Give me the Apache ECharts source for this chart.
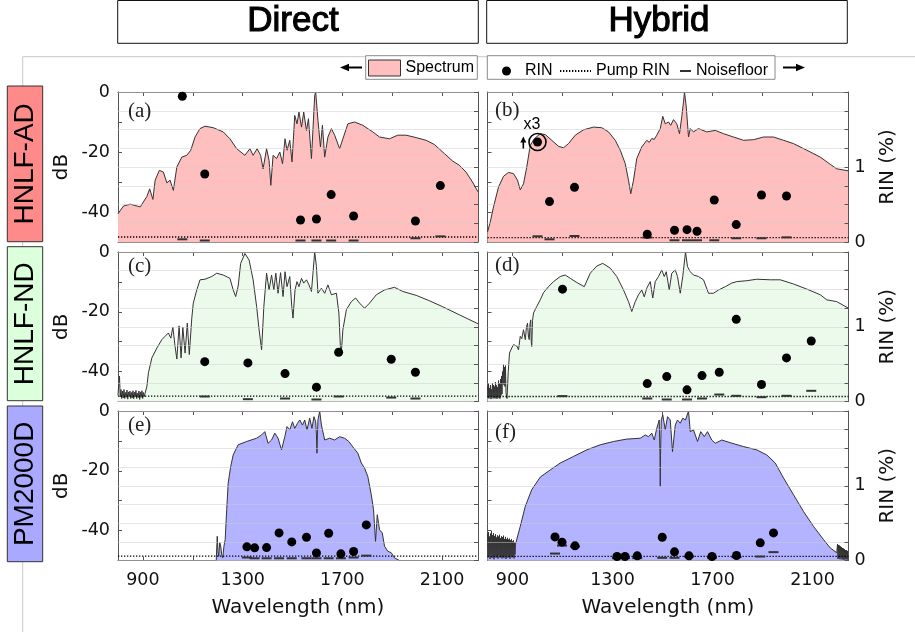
<!DOCTYPE html>
<html>
<head>
<meta charset="utf-8">
<script src="https://cdn.jsdelivr.net/npm/echarts@6/dist/echarts.min.js"></script>
<style>
html,body{margin:0;padding:0;background:#ffffff;}
#chart{width:915px;height:632px;}
</style>
</head>
<body>
<div id="chart"></div>
<script>
// ---------------- data ----------------
const columnTitles = ['Direct', 'Hybrid'];
const rowLabels = ['HNLF-AD', 'HNLF-ND', 'PM2000D'];
const panelLetters = ['(a)', '(b)', '(c)', '(d)', '(e)', '(f)'];
const xTickValues = [900, 1100, 1300, 1500, 1700, 1900, 2100];
const xLabelValues = [900, 1300, 1700, 2100];
const dbLabelValues = [-40, -20, 0];
const rinLabelValues = [0, 1];
const xRange = [800, 2244];

// spectra: [wavelength nm, dB]
const specA = [[800,-40.6],[822,-38],[849,-37.4],[889,-38.3],[916,-34.8],[927,-32.3],[940,-35.8],[949,-29.4],[966,-26.1],[982,-26.7],[996,-30.3],[1009,-29.4],[1022,-32.8],[1036,-25],[1056,-21.7],[1076,-21.1],[1092,-19.4],[1109,-15],[1129,-12.2],[1149,-11.4],[1182,-11.9],[1222,-13.3],[1249,-15.6],[1276,-18.9],[1309,-21.1],[1329,-18.9],[1342,-21.1],[1358,-18.9],[1372,-21.1],[1382,-25.6],[1396,-18.9],[1406,-22.8],[1413,-31.1],[1422,-21.1],[1436,-22.2],[1449,-20],[1460,-23.9],[1470,-15.6],[1478,-19.4],[1489,-16.1],[1498,-23.3],[1509,-7.8],[1518,-10.6],[1526,-6.7],[1536,-11.7],[1545,-6.7],[1556,-12.8],[1564,-8.9],[1576,-22.2],[1589,-1.1],[1593,0],[1602,-9.4],[1612,-18.3],[1620,-11.1],[1629,-21.7],[1642,-15],[1656,-12.2],[1669,-14.4],[1689,-18.9],[1702,-15.6],[1722,-10.6],[1749,-10],[1782,-11.1],[1822,-13.3],[1849,-15],[1889,-15.6],[1922,-14.4],[1956,-14.4],[1996,-15.2],[2036,-16.1],[2069,-17.5],[2089,-19],[2109,-20.5],[2142,-23],[2169,-24.4],[2196,-26.7],[2222,-30],[2244,-33.3]];
const specB = [[800,-46.7],[811,-43.3],[824,-38.3],[844,-31.7],[864,-28.1],[884,-26.8],[904,-27.2],[920,-29.4],[931,-32.6],[944,-30.6],[957,-25],[971,-17.8],[987,-15.6],[1011,-13.9],[1031,-14.2],[1057,-16.1],[1084,-18.1],[1104,-18.6],[1124,-17.2],[1151,-14.4],[1184,-12.6],[1224,-11.7],[1257,-11.9],[1284,-13.3],[1311,-16.1],[1331,-19.4],[1351,-23.9],[1364,-29.4],[1373,-33.9],[1384,-29.4],[1397,-22.2],[1417,-18.3],[1437,-16.1],[1447,-16.8],[1457,-15.5],[1467,-15.8],[1477,-14.4],[1491,-12.2],[1501,-8.1],[1511,-10.6],[1524,-10],[1533,-11.1],[1544,-9.2],[1557,-10.6],[1568,-13.9],[1577,-8.3],[1584,-3.3],[1588,0],[1595,-5],[1604,-15],[1611,-12.2],[1624,-13.3],[1644,-12.2],[1677,-13.3],[1711,-12.8],[1744,-13.9],[1784,-15],[1824,-16.1],[1864,-15.9],[1904,-15],[1944,-15],[1984,-16.1],[2024,-17.2],[2077,-19.4],[2131,-21.7],[2171,-24.1],[2197,-25.6],[2244,-26.3]];
const specC = [[800,-48],[803,-44],[806,-41.5],[809,-48.5],[812,-46],[815,-49],[818,-46.5],[821,-48.8],[824,-46],[827,-49],[830,-47],[833,-48.6],[836,-46.2],[839,-49.2],[842,-46.8],[845,-48.4],[848,-46.5],[851,-49],[854,-47],[857,-48.8],[860,-46.4],[863,-49.1],[866,-46.9],[869,-48.5],[872,-46.3],[875,-49],[878,-47.2],[881,-48.7],[884,-46.5],[887,-49.3],[890,-46.8],[893,-48.6],[896,-46.4],[899,-49],[902,-47],[905,-48.4],[909,-48.2],[916,-44.9],[922,-40.4],[936,-35.4],[956,-32.1],[976,-29.3],[989,-28.2],[1002,-27.1],[1012,-28.8],[1020,-25.1],[1029,-31.6],[1036,-35.8],[1045,-24.7],[1053,-35.4],[1060,-25.1],[1069,-33.8],[1078,-23.8],[1086,-34.3],[1096,-22.1],[1102,-17.1],[1116,-12.7],[1129,-9.3],[1149,-9.1],[1176,-8.2],[1196,-7.1],[1222,-7.7],[1249,-8.8],[1262,-12.7],[1272,-14.9],[1282,-11.4],[1292,-3.8],[1309,-0.5],[1326,-2.7],[1342,-9.3],[1356,-18.2],[1366,-26],[1376,-32.7],[1385,-18.2],[1396,-7.1],[1406,-12.7],[1416,-7.7],[1425,-12.7],[1433,-7.1],[1442,-13.8],[1452,-6.9],[1462,-14.9],[1470,-6.6],[1478,-11.6],[1489,-8.2],[1497,-18.2],[1502,-22.1],[1510,-12.7],[1518,-9.9],[1526,-11.6],[1536,-8.8],[1545,-10.4],[1556,-9.3],[1566,-11],[1576,-13.2],[1582,-7.1],[1589,0],[1596,-4.9],[1602,-13.8],[1616,-12.1],[1629,-13.8],[1642,-11],[1656,-14.3],[1676,-13.8],[1686,-20.4],[1692,-31.6],[1696,-33.2],[1702,-26],[1716,-19.3],[1736,-16.6],[1753,-15.4],[1769,-17.1],[1789,-18.8],[1809,-17.1],[1836,-14.3],[1869,-12.7],[1909,-11.8],[1942,-13.2],[1996,-14.5],[2049,-16.3],[2102,-18.3],[2169,-21],[2244,-24]];
const specD = [[800,-45],[802,-48.8],[804,-44],[806,-49],[808,-45.5],[810,-48.5],[812,-44.5],[814,-49.2],[816,-46],[818,-48.3],[820,-43.8],[822,-49],[824,-44.5],[826,-48.6],[828,-45],[830,-49],[832,-43.5],[834,-48.8],[836,-44.6],[838,-49.1],[840,-45.2],[842,-48.4],[844,-43],[846,-48.9],[848,-44],[850,-49],[852,-42.5],[854,-48],[856,-41.5],[858,-47.5],[860,-40],[862,-44],[864,-37.7],[866,-44.5],[868,-38.5],[870,-45],[872,-38],[874,-47],[876,-48.2],[878,-49],[880,-49.3],[883,-40],[888,-33.8],[897,-32.1],[904,-31],[911,-30.4],[918,-31.5],[924,-32.7],[931,-28.2],[937,-29],[944,-26],[951,-29.3],[956,-25],[960,-23.8],[964,-28.5],[967,-29.3],[970,-24],[973,-22.7],[975,-30],[977,-31.6],[980,-23],[984,-20.4],[997,-18.2],[1011,-16],[1024,-13.6],[1044,-11.6],[1064,-9.9],[1091,-8.2],[1111,-7.7],[1131,-8.8],[1157,-10.2],[1187,-11.6],[1211,-7.1],[1237,-4.7],[1261,-3.8],[1291,-5.4],[1317,-8.2],[1344,-12.7],[1364,-16.6],[1377,-19.9],[1391,-16.6],[1404,-14.3],[1417,-12.7],[1427,-15],[1437,-12.1],[1451,-9.9],[1461,-15.4],[1471,-9.9],[1484,-8.2],[1497,-6],[1507,-8.2],[1515,-6.6],[1527,-12.7],[1537,-7.1],[1551,-6],[1560,-8.2],[1571,-13.8],[1581,-8.2],[1592,0],[1600,-4.9],[1611,-6.6],[1624,-7.7],[1644,-8.2],[1664,-9.3],[1684,-13.8],[1704,-13.8],[1724,-12.7],[1751,-11.6],[1777,-10.4],[1797,-9.9],[1837,-9.6],[1877,-9.1],[1931,-9.3],[1971,-9.3],[2024,-10.7],[2077,-12.4],[2131,-14.3],[2157,-16],[2197,-16.6],[2244,-18.8]];
const specE = [[1194,-50],[1196,-49.7],[1198,-41.9],[1201,-47],[1204,-48.6],[1208,-44],[1212,-45.2],[1216,-48],[1220,-49.1],[1225,-45.2],[1230,-43],[1236,-33],[1242,-24.1],[1252,-18.6],[1262,-14.7],[1282,-11.3],[1316,-10.2],[1356,-9.1],[1376,-8],[1389,-6.9],[1402,-10.8],[1416,-9.7],[1429,-7.4],[1442,-9.1],[1456,-13],[1469,-8.6],[1478,-5.2],[1489,-6.3],[1500,-3.6],[1509,-5.8],[1520,-4.1],[1529,-3],[1540,-4.7],[1549,-3],[1558,-6.3],[1569,-2.4],[1578,-5.8],[1586,-1.9],[1593,-3.6],[1596,-8],[1598,-14.1],[1600,-8],[1602,-3],[1609,0],[1616,-4.7],[1629,-9.7],[1649,-9.1],[1669,-9.7],[1689,-8.6],[1709,-9.1],[1726,-10.2],[1742,-12],[1762,-14.1],[1776,-17.4],[1789,-19.1],[1802,-21.9],[1816,-28],[1825,-33],[1833,-43.6],[1840,-34.7],[1849,-39.7],[1860,-40.8],[1869,-45.2],[1882,-46.9],[1896,-47.4],[1909,-49.1],[1929,-50]];
const specF = [[800,-41],[802,-49],[804,-40.5],[806,-48.5],[808,-42],[810,-49.5],[812,-41],[814,-48],[816,-40.2],[818,-49.2],[820,-41.5],[822,-48.8],[824,-40.8],[826,-49.6],[828,-41.8],[830,-48.4],[832,-41.2],[834,-49.1],[836,-42.3],[838,-48.7],[840,-41.6],[842,-49.4],[844,-42],[846,-48.2],[848,-41.4],[850,-49],[852,-42.6],[854,-48.9],[856,-41.9],[858,-49.3],[860,-42.2],[862,-48.5],[864,-41.7],[866,-49.2],[868,-42.8],[870,-48.6],[872,-42.1],[874,-49.5],[876,-42.9],[878,-48.3],[880,-42.4],[882,-49.1],[884,-43],[886,-48.8],[888,-42.7],[890,-49.4],[892,-43.3],[894,-48.5],[896,-42.9],[898,-49],[900,-43.6],[902,-48.7],[904,-43.2],[906,-49.3],[908,-44],[910,-48],[912,-44.5],[917,-44],[931,-38.6],[951,-31.9],[977,-26.3],[1011,-22.1],[1051,-19.7],[1091,-17.4],[1144,-15.2],[1197,-13],[1251,-11.3],[1304,-10.2],[1357,-9.4],[1411,-9.1],[1431,-8],[1444,-8.6],[1457,-7.4],[1467,-9.7],[1477,-5.8],[1487,-3],[1490,-15],[1491,-25.2],[1492,-15],[1495,-3],[1501,-1.3],[1511,-6.3],[1520,-1.9],[1531,-3],[1540,-13.6],[1551,-4.7],[1560,-3],[1571,-4.1],[1581,-2.4],[1592,-3],[1604,0],[1611,-6.9],[1624,-6.3],[1640,-10.2],[1653,-6.9],[1667,-8.6],[1680,-6.9],[1697,-9.7],[1711,-10.8],[1737,-9.7],[1771,-10.6],[1824,-11.9],[1877,-13],[1917,-14.7],[1951,-17.4],[1984,-22.4],[2024,-28],[2064,-33.6],[2104,-38.6],[2144,-43],[2171,-45.8],[2197,-47.4],[2200,-44.5],[2202,-49.5],[2204,-44.8],[2206,-49.2],[2208,-45],[2210,-49.6],[2212,-45.3],[2214,-49],[2216,-45.5],[2218,-49.7],[2220,-45.8],[2222,-49.3],[2224,-46],[2226,-49.8],[2228,-46.2],[2230,-49.4],[2232,-46.5],[2234,-49.7],[2236,-46.6],[2238,-49.5],[2240,-46.8],[2242,-49.8],[2244,-47]];

// RIN points: [wavelength nm, RIN %]
const rinA = [[1058,1.943],[1148,0.907],[1532,0.293],[1596,0.307],[1655,0.632],[1745,0.347],[1993,0.28],[2093,0.752]];
const rinB = [[1000,1.333],[1048,0.539],[1148,0.729],[1439,0.103],[1548,0.156],[1598,0.165],[1638,0.143],[1707,0.56],[1795,0.232],[1896,0.627],[1996,0.613]];
const rinC = [[1148,0.533],[1321,0.516],[1470,0.373],[1596,0.192],[1685,0.659],[1896,0.565],[1993,0.392]];
const rinD = [[1100,1.503],[1439,0.24],[1517,0.333],[1598,0.156],[1658,0.347],[1727,0.392],[1795,1.099],[1896,0.227],[1996,0.583],[2095,0.809]];
const rinE = [[1317,0.183],[1348,0.169],[1396,0.173],[1446,0.369],[1497,0.249],[1556,0.311],[1596,0.102],[1645,0.364],[1694,0.089],[1745,0.12],[1796,0.476]];
const rinF = [[1070,0.316],[1098,0.245],[1150,0.196],[1318,0.053],[1350,0.053],[1399,0.062],[1499,0.311],[1548,0.116],[1606,0.062],[1698,0.053],[1796,0.067],[1891,0.236],[1944,0.369]];

// noise floor: [wavelength nm, RIN %]
const noiseA = [[1058,0.036],[1148,0.02],[1532,0.02],[1596,0.02],[1655,0.02],[1745,0.02],[1993,0.05],[2093,0.075]];
const noiseB = [[1000,0.076],[1048,0.036],[1148,0.08],[1439,0.06],[1548,0.023],[1598,0.023],[1638,0.023],[1707,0.023],[1795,0.05],[1896,0.05],[1996,0.062]];
const noiseC = [[1148,0.067],[1321,0.031],[1470,0.04],[1596,0.027],[1685,0.067],[1896,0.053],[1993,0.04]];
const noiseD = [[1100,0.072],[1439,0.04],[1517,0.027],[1598,0.027],[1658,0.04],[1727,0.093],[1795,0.076],[1896,0.058],[1996,0.076],[2095,0.143]];
const noiseE = [[1317,0.04],[1348,0.03],[1396,0.03],[1446,0.03],[1497,0.03],[1556,0.03],[1596,0.03],[1645,0.03],[1694,0.03],[1745,0.04],[1796,0.065]];
const noiseF = [[1070,0.093],[1098,0.2],[1150,0.187],[1318,0.032],[1350,0.032],[1399,0.032],[1499,0.036],[1548,0.036],[1606,0.053],[1698,0.036],[1796,0.045],[1891,0.053],[1944,0.112]];

const pumpRin = [0.067, 0.059, 0.072, 0.067, 0.059, 0.055];
const scaledPoint = [[1000, 1.333]];   // circled point, shown x3

// ---------------- layout / style ----------------
const fills = ['#ffbfbf', '#ffbfbf', '#ebfaeb', '#ebfaeb', '#b3b3ff', '#b3b3ff'];
const sideFills = ['#ff8a8a', '#dcffdc', '#a9a9ff'];
const cols = [{left: 118, width: 360}, {left: 487.5, width: 361}];
const rows = [{top: 92, height: 150}, {top: 252, height: 149.5}, {top: 411, height: 149.5}];
const letterPos = [[128, 111.5], [495, 110.7], [128, 266], [495, 265.7], [128, 425.7], [495, 432]];

const panels = [
  {spec: specA, rin: rinA, noise: noiseA, row: 0, col: 0},
  {spec: specB, rin: rinB, noise: noiseB, row: 0, col: 1},
  {spec: specC, rin: rinC, noise: noiseC, row: 1, col: 0},
  {spec: specD, rin: rinD, noise: noiseD, row: 1, col: 1},
  {spec: specE, rin: rinE, noise: noiseE, row: 2, col: 0},
  {spec: specF, rin: rinF, noise: noiseF, row: 2, col: 1}
];

const SANS = '"Liberation Sans", Arial, sans-serif';
const AXF = '"DejaVu Sans", sans-serif';
const AXC = '#555';
const plain = (v) => String(v);

const grids = [], xAxes = [], yAxes = [], series = [];
panels.forEach((p, i) => {
  const c = cols[p.col], r = rows[p.row];
  grids.push({left: c.left, top: r.top, width: c.width, height: r.height, show: false});
  const bottomRow = p.row === 2;
  const axLine = {show: true, onZero: false, lineStyle: {color: AXC, width: 1}};
  const tick = (vals) => Object.assign({show: true, inside: true, length: 4, lineStyle: {color: AXC, width: 1}}, vals ? {customValues: vals} : {});
  xAxes.push({
    gridIndex: i, type: 'value', position: 'bottom', min: xRange[0], max: xRange[1],
    axisLine: axLine, axisTick: tick(xTickValues),
    axisLabel: {show: bottomRow, customValues: xLabelValues, formatter: plain, fontFamily: AXF, fontSize: 17.5, color: '#111', margin: 11},
    splitLine: {show: false},
    name: bottomRow ? 'Wavelength (nm)' : '', nameLocation: 'middle', nameGap: 37,
    nameTextStyle: {fontFamily: AXF, fontSize: 20, color: '#111'}
  });
  xAxes.push({
    gridIndex: i, type: 'value', position: 'top', min: xRange[0], max: xRange[1],
    axisLine: axLine, axisTick: tick(xTickValues), axisLabel: {show: false}, splitLine: {show: false}
  });
  yAxes.push({
    gridIndex: i, type: 'value', position: 'left', min: -50, max: 0, interval: 10,
    axisLine: axLine, axisTick: tick(),
    axisLabel: {show: p.col === 0, customValues: dbLabelValues, formatter: plain, fontFamily: AXF, fontSize: 17.5, color: '#111', margin: 8},
    splitLine: {show: false},
    name: p.col === 0 ? 'dB' : '', nameLocation: 'middle', nameGap: 46, nameRotate: 90,
    nameTextStyle: {fontFamily: AXF, fontSize: 20, color: '#111'}
  });
  yAxes.push({
    gridIndex: i, type: 'value', position: 'right', min: 0, max: 2, interval: 0.25, z: 3,
    axisLine: axLine, axisTick: tick(),
    axisLabel: {show: p.col === 1, customValues: rinLabelValues, formatter: plain, fontFamily: AXF, fontSize: 17.5, color: '#111', margin: 6},
    splitLine: {show: true, lineStyle: {color: 'rgba(205,205,205,0.5)', width: 1}},
    name: p.col === 1 ? 'RIN (%)' : '', nameLocation: 'middle', nameGap: 29, nameRotate: 90,
    nameTextStyle: {fontFamily: AXF, fontSize: 20, color: '#111'}
  });
  const xb = 2 * i, yl = 2 * i, yr = 2 * i + 1;
  series.push({
    name: 'Spectrum', type: 'line', xAxisIndex: xb, yAxisIndex: yl, data: p.spec,
    symbol: 'none', showSymbol: false, silent: true, z: 2,
    lineStyle: {color: '#333', width: 1},
    areaStyle: {color: fills[i], opacity: 1, origin: 'start'}
  });
  series.push({
    name: 'Pump RIN', type: 'line', xAxisIndex: xb, yAxisIndex: yr,
    data: [[xRange[0], pumpRin[i]], [xRange[1], pumpRin[i]]],
    symbol: 'none', silent: true, z: 4,
    itemStyle: {color: '#000'},
    lineStyle: {color: '#000', width: 1.3, type: [1.3, 1.7]}
  });
  series.push({
    name: 'Noisefloor', type: 'scatter', xAxisIndex: xb, yAxisIndex: yr, data: p.noise,
    symbol: 'rect', symbolSize: [10, 2], z: 4, silent: true,
    itemStyle: {color: '#333', opacity: 1}
  });
  series.push({
    name: 'RIN', type: 'scatter', xAxisIndex: xb, yAxisIndex: yr, data: p.rin,
    symbol: 'circle', symbolSize: 9, z: 5, silent: true,
    itemStyle: {color: '#000', opacity: 1}
  });
  if (i === 1) {
    series.push({
      name: 'x3', type: 'scatter', xAxisIndex: xb, yAxisIndex: yr, data: scaledPoint,
      symbol: 'circle', symbolSize: 17, z: 5, silent: true,
      itemStyle: {color: 'rgba(0,0,0,0)', borderColor: '#000', borderWidth: 1.6, opacity: 1}
    });
  }
});

// ---------------- decorations ----------------
const graphics = [];
graphics.push({type: 'polyline', z: 0, shape: {points: [[22.7, 632], [22.7, 56.7], [915, 56.7]]}, style: {stroke: '#c8c8c8', lineWidth: 1, fill: null}});
graphics.push({type: 'rect', z: 1, shape: {x: 365.7, y: 55.7, width: 111.6, height: 23.6}, style: {fill: '#fff', stroke: '#8a8a8a', lineWidth: 1}});
graphics.push({type: 'rect', z: 1, shape: {x: 487.3, y: 55.7, width: 287.7, height: 23.6}, style: {fill: '#fff', stroke: '#8a8a8a', lineWidth: 1}});
graphics.push({type: 'line', z: 1, shape: {x1: 348, y1: 67.5, x2: 362, y2: 67.5}, style: {stroke: '#000', lineWidth: 2}});
graphics.push({type: 'polygon', z: 1, shape: {points: [[340, 67.5], [349, 63.8], [349, 71.2]]}, style: {fill: '#000'}});
graphics.push({type: 'line', z: 1, shape: {x1: 783, y1: 67.5, x2: 797, y2: 67.5}, style: {stroke: '#000', lineWidth: 2}});
graphics.push({type: 'polygon', z: 1, shape: {points: [[805, 67.5], [796, 63.8], [796, 71.2]]}, style: {fill: '#000'}});
const headerBoxes = [[117.7, 478.3, 293], [486.7, 847.3, 659]];
columnTitles.forEach((t, k) => {
  const b = headerBoxes[k];
  graphics.push({type: 'rect', z: 1, shape: {x: b[0], y: 0.5, width: b[1] - b[0], height: 42.8}, style: {fill: '#fff', stroke: '#111', lineWidth: 1}});
  graphics.push({type: 'text', z: 2, x: b[2], y: 21, style: {text: t, fontFamily: SANS, fontSize: 35, fill: '#000', stroke: '#000', lineWidth: 1.1, align: 'center', verticalAlign: 'middle'}});
});
const sideBoxes = [[86, 241.7], [246.7, 400.7], [406, 561.7]];
rowLabels.forEach((t, k) => {
  const b = sideBoxes[k];
  graphics.push({type: 'rect', z: 1, shape: {x: 7.3, y: b[0], width: 35.4, height: b[1] - b[0]}, style: {fill: sideFills[k], stroke: '#333', lineWidth: 1}});
  graphics.push({type: 'text', z: 2, x: 25.5, y: (b[0] + b[1]) / 2, rotation: Math.PI / 2, style: {text: t, fontFamily: SANS, fontSize: 28, fill: '#000', align: 'center', verticalAlign: 'middle'}});
});
panelLetters.forEach((t, k) => {
  graphics.push({type: 'text', z: 6, x: letterPos[k][0], y: letterPos[k][1], style: {text: t, fontFamily: '"Liberation Serif", "DejaVu Serif", serif', fontSize: 21, fill: '#222', align: 'left', verticalAlign: 'middle'}});
});
graphics.push({type: 'text', z: 6, x: 532, y: 125, style: {text: 'x3', fontFamily: SANS, fontSize: 16, fill: '#000', align: 'center', verticalAlign: 'middle'}});
graphics.push({type: 'line', z: 6, shape: {x1: 523.3, y1: 148.5, x2: 523.3, y2: 141}, style: {stroke: '#000', lineWidth: 1.6}});
graphics.push({type: 'polygon', z: 6, shape: {points: [[523.3, 136.5], [520.3, 142.5], [526.3, 142.5]]}, style: {fill: '#000'}});

const legendText = {fontFamily: SANS, fontSize: 16, color: '#000'};
const option = {
  animation: false,
  backgroundColor: '#ffffff',
  grid: grids,
  xAxis: xAxes,
  yAxis: yAxes,
  series: series,
  legend: [
    {selectedMode: false, left: 368, top: 59.5, padding: 0, itemWidth: 32, itemHeight: 16, textStyle: legendText, z: 5,
     data: [{name: 'Spectrum', icon: 'rect', itemStyle: {color: '#ffbfbf', borderColor: '#333', borderWidth: 1}}]},
    {selectedMode: false, left: 502, top: 63, padding: 0, itemWidth: 9, itemHeight: 9, textStyle: legendText, z: 5,
     formatter: '  {name}',
     data: [{name: 'RIN', icon: 'circle', itemStyle: {color: '#000', opacity: 1}}]},
    {selectedMode: false, left: 559, top: 63, padding: 0, itemWidth: 31, itemHeight: 9, textStyle: legendText, z: 5,
     data: [{name: 'Pump RIN', itemStyle: {color: 'rgba(0,0,0,0)', borderColor: 'rgba(0,0,0,0)', borderWidth: 0}}]},
    {selectedMode: false, left: 680, top: 63, padding: 0, itemWidth: 11, itemHeight: 9, textStyle: legendText, z: 5,
     data: [{name: 'Noisefloor', icon: 'path://M0,0L0,0M0,3.5L11,3.5L11,5.5L0,5.5ZM11,9L11,9', itemStyle: {color: '#333', opacity: 1}}]}
  ],
  graphic: graphics
};
const chart = echarts.init(document.getElementById('chart'));
chart.setOption(option);
</script>
</body>
</html>
